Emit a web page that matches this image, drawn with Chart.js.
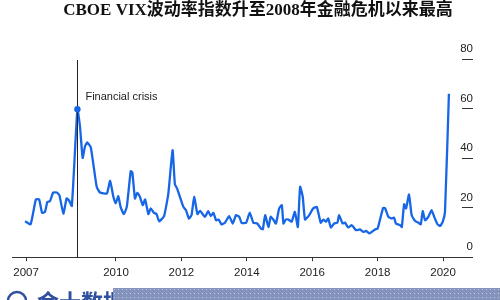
<!DOCTYPE html>
<html>
<head>
<meta charset="utf-8">
<title>CBOE VIX</title>
<script src="https://cdn.jsdelivr.net/npm/chart.js@4.4.1/dist/chart.umd.min.js"></script>
<style>
    html, body { margin: 0; padding: 0; background: #ffffff; }
    #wrap { width: 500px; height: 300px; }
</style>
</head>
<body>
<div id="wrap"><canvas id="vix-chart" width="500" height="300"></canvas></div>
<script>
// Chart data
const TITLE_TEXT = 'CBOE VIX波动率指数升至2008年金融危机以来最高';
const CRISIS_LABEL = 'Financial crisis';
const WATERMARK_TEXT = '金十数据';

const TICK_YEARS = [2007.25, 2010, 2012, 2014, 2016, 2018, 2020];
const TICK_LABELS = ['2007', '2010', '2012', '2014', '2016', '2018', '2020'];
const Y_TICKS = [0, 20, 40, 60, 80];

const years = [
    2007.22, 2007.39, 2007.55, 2007.65, 2007.74, 2007.83, 2007.90, 2007.98,
    2008.08, 2008.19, 2008.27, 2008.39, 2008.49, 2008.56, 2008.65, 2008.82, 2008.90, 2008.98,
    2009.05, 2009.12, 2009.23, 2009.41, 2009.51, 2009.72, 2009.82, 2009.92, 2009.99,
    2010.07, 2010.14, 2010.24, 2010.33, 2010.45, 2010.50, 2010.58, 2010.65, 2010.73, 2010.82, 2010.89, 2010.99,
    2011.06, 2011.16, 2011.24, 2011.32, 2011.47, 2011.60, 2011.73, 2011.80, 2011.87,
    2012.06, 2012.14, 2012.23, 2012.31, 2012.39, 2012.49, 2012.57, 2012.72, 2012.82, 2012.90, 2012.98,
    2013.06, 2013.14, 2013.23, 2013.33, 2013.46, 2013.57, 2013.67, 2013.77, 2013.84, 2013.98,
    2014.09, 2014.20, 2014.32, 2014.43, 2014.49, 2014.56, 2014.66, 2014.73, 2014.81, 2014.89, 2014.99,
    2015.07, 2015.12, 2015.19, 2015.27, 2015.37, 2015.47, 2015.56, 2015.63, 2015.71, 2015.78, 2015.91,
    2016.03, 2016.14, 2016.26, 2016.34, 2016.42, 2016.49, 2016.57, 2016.67, 2016.77, 2016.82, 2016.93,
    2017.00, 2017.10, 2017.21, 2017.34, 2017.46, 2017.56, 2017.65, 2017.74, 2017.82, 2017.92,
    2018.00, 2018.10, 2018.17, 2018.23, 2018.33, 2018.43, 2018.50, 2018.56, 2018.69, 2018.74, 2018.81, 2018.87, 2018.96,
    2019.04, 2019.14, 2019.25, 2019.32, 2019.38, 2019.45, 2019.55, 2019.65, 2019.73, 2019.83, 2019.91, 2019.99,
    2020.06, 2020.18
];

const vix = [
    14.5, 13.3, 23.3, 23.3, 17.9, 18.3, 22.3, 22.6,
    26.1, 26.1, 25.0, 17.6, 23.7, 23.0, 20.7, 59.7, 52.6, 40.1,
    44.6, 46.3, 44.3, 28.4, 26.1, 25.7, 30.8, 24.4, 21.7,
    24.6, 20.3, 17.4, 20.3, 34.7, 34.2, 23.7, 26.0, 24.4, 21.0, 23.3, 17.4,
    19.7, 17.9, 17.4, 14.5, 16.6, 25.7, 43.2, 29.5, 27.7,
    20.3, 19.0, 15.6, 17.0, 24.4, 17.4, 18.7, 16.3, 18.6, 16.6, 17.9,
    14.9, 15.2, 13.2, 13.9, 16.6, 13.6, 17.0, 16.3, 13.9, 13.9,
    18.0, 13.9, 13.6, 11.6, 11.3, 17.0, 12.2, 16.3, 15.2, 13.6, 19.7,
    21.0, 13.6, 15.2, 15.2, 14.3, 18.3, 12.2, 28.4, 24.4, 15.2, 17.0,
    19.7, 20.3, 13.9, 15.2, 14.3, 15.6, 12.0, 13.6, 13.9, 17.0, 13.6,
    14.0, 12.0, 12.9, 10.9, 11.2, 10.2, 10.6, 9.6, 10.2, 11.2,
    11.6, 16.6, 19.9, 19.7, 16.3, 15.6, 16.0, 13.6, 12.9, 12.2, 21.4, 19.7, 25.3,
    17.0, 14.7, 13.9, 13.3, 18.6, 14.9, 16.3, 19.0, 16.3, 13.3, 12.6, 14.3,
    18.3, 66.0
];

const CRISIS_INDEX = 15;       // peak of the 2008 crisis
const CRISIS_LABEL_VALUE = 64.6;

const LINE_COLOR = '#1766e6';
const AXIS_COLOR = '#333333';
const TEXT_COLOR = '#222222';
const FONT_FAMILY = '"Liberation Sans", Arial, sans-serif';

// Title, crisis marker and watermark drawn on top of the chart
const decorPlugin = {
    id: 'decor',
    afterDraw(chart) {
        const ctx = chart.ctx;
        const xScale = chart.scales.x;
        const yScale = chart.scales.y;
        const area = chart.chartArea;

        ctx.save();

        // title
        ctx.fillStyle = '#111111';
        ctx.font = 'bold 17px "Liberation Serif", "Noto Sans CJK SC", serif';
        ctx.textAlign = 'center';
        ctx.textBaseline = 'middle';
        ctx.fillText(TITLE_TEXT, 258, 11);

        // crisis marker
        const cx = xScale.getPixelForValue(years[CRISIS_INDEX]);
        const cy = yScale.getPixelForValue(vix[CRISIS_INDEX]);
        ctx.strokeStyle = '#222222';
        ctx.lineWidth = 1;
        ctx.beginPath();
        ctx.moveTo(Math.round(cx) + 0.5, area.top + 1);
        ctx.lineTo(Math.round(cx) + 0.5, area.bottom);
        ctx.stroke();

        ctx.fillStyle = LINE_COLOR;
        ctx.beginPath();
        ctx.arc(cx, cy, 3.2, 0, Math.PI * 2);
        ctx.fill();

        ctx.fillStyle = TEXT_COLOR;
        ctx.font = '11px ' + FONT_FAMILY;
        ctx.textAlign = 'left';
        ctx.fillText(CRISIS_LABEL, cx + 8, yScale.getPixelForValue(CRISIS_LABEL_VALUE));

        // watermark at the bottom edge
        ctx.strokeStyle = '#2f4f9f';
        ctx.lineWidth = 2.5;
        ctx.beginPath();
        ctx.arc(17, 301, 9, 0, Math.PI * 2);
        ctx.stroke();
        ctx.fillStyle = '#2f4f9f';
        ctx.font = 'bold 22px "Noto Sans CJK SC", sans-serif';
        ctx.textAlign = 'left';
        ctx.textBaseline = 'alphabetic';
        ctx.fillText(WATERMARK_TEXT, 37, 310);

        ctx.fillStyle = '#8393bb';
        ctx.fillRect(113, 288, 387, 12);
        ctx.fillStyle = '#c3cbe0';
        for (let x = 114; x < 500; x += 4) {
            for (let y = 289; y < 300; y += 4) {
                ctx.fillRect(x, y, 1, 1);
            }
        }

        ctx.restore();
    }
};

function createVixChart() {
    const ctx = document.getElementById('vix-chart').getContext('2d');

    const points = years.map((yr, i) => ({ x: yr, y: vix[i] }));

    return new Chart(ctx, {
        type: 'line',
        data: {
            datasets: [{
                label: 'CBOE VIX',
                data: points,
                borderColor: LINE_COLOR,
                borderWidth: 2.3,
                pointRadius: 0,
                tension: 0.15,
                fill: false
            }]
        },
        options: {
            responsive: false,
            animation: false,
            layout: {
                padding: { top: 59, left: 12, right: 5, bottom: 15 }
            },
            scales: {
                x: {
                    type: 'linear',
                    min: 2006.82,
                    max: 2020.58,
                    afterBuildTicks: function(scale) {
                        scale.ticks = TICK_YEARS.map(v => ({ value: v }));
                    },
                    grid: {
                        drawOnChartArea: false,
                        drawTicks: true,
                        tickLength: 4,
                        color: AXIS_COLOR
                    },
                    border: { display: true, color: AXIS_COLOR, width: 1 },
                    ticks: {
                        autoSkip: false,
                        maxRotation: 0,
                        padding: 5,
                        color: TEXT_COLOR,
                        font: { family: FONT_FAMILY, size: 11.5 },
                        callback: function(value, index) {
                            return TICK_LABELS[index];
                        }
                    }
                },
                y: {
                    position: 'right',
                    min: 0,
                    max: 80,
                    afterBuildTicks: function(scale) {
                        scale.ticks = Y_TICKS.map(v => ({ value: v }));
                    },
                    grid: {
                        drawOnChartArea: false,
                        drawTicks: true,
                        tickLength: 11,
                        color: AXIS_COLOR
                    },
                    border: { display: false },
                    ticks: {
                        mirror: true,
                        padding: 11,
                        crossAlign: 'near',
                        labelOffset: -10,
                        color: TEXT_COLOR,
                        font: { family: FONT_FAMILY, size: 11.5 }
                    }
                }
            },
            plugins: {
                legend: { display: false },
                title: { display: false },
                tooltip: { enabled: false }
            }
        },
        plugins: [decorPlugin]
    });
}

document.addEventListener('DOMContentLoaded', function() {
    createVixChart();
});
</script>
</body>
</html>
